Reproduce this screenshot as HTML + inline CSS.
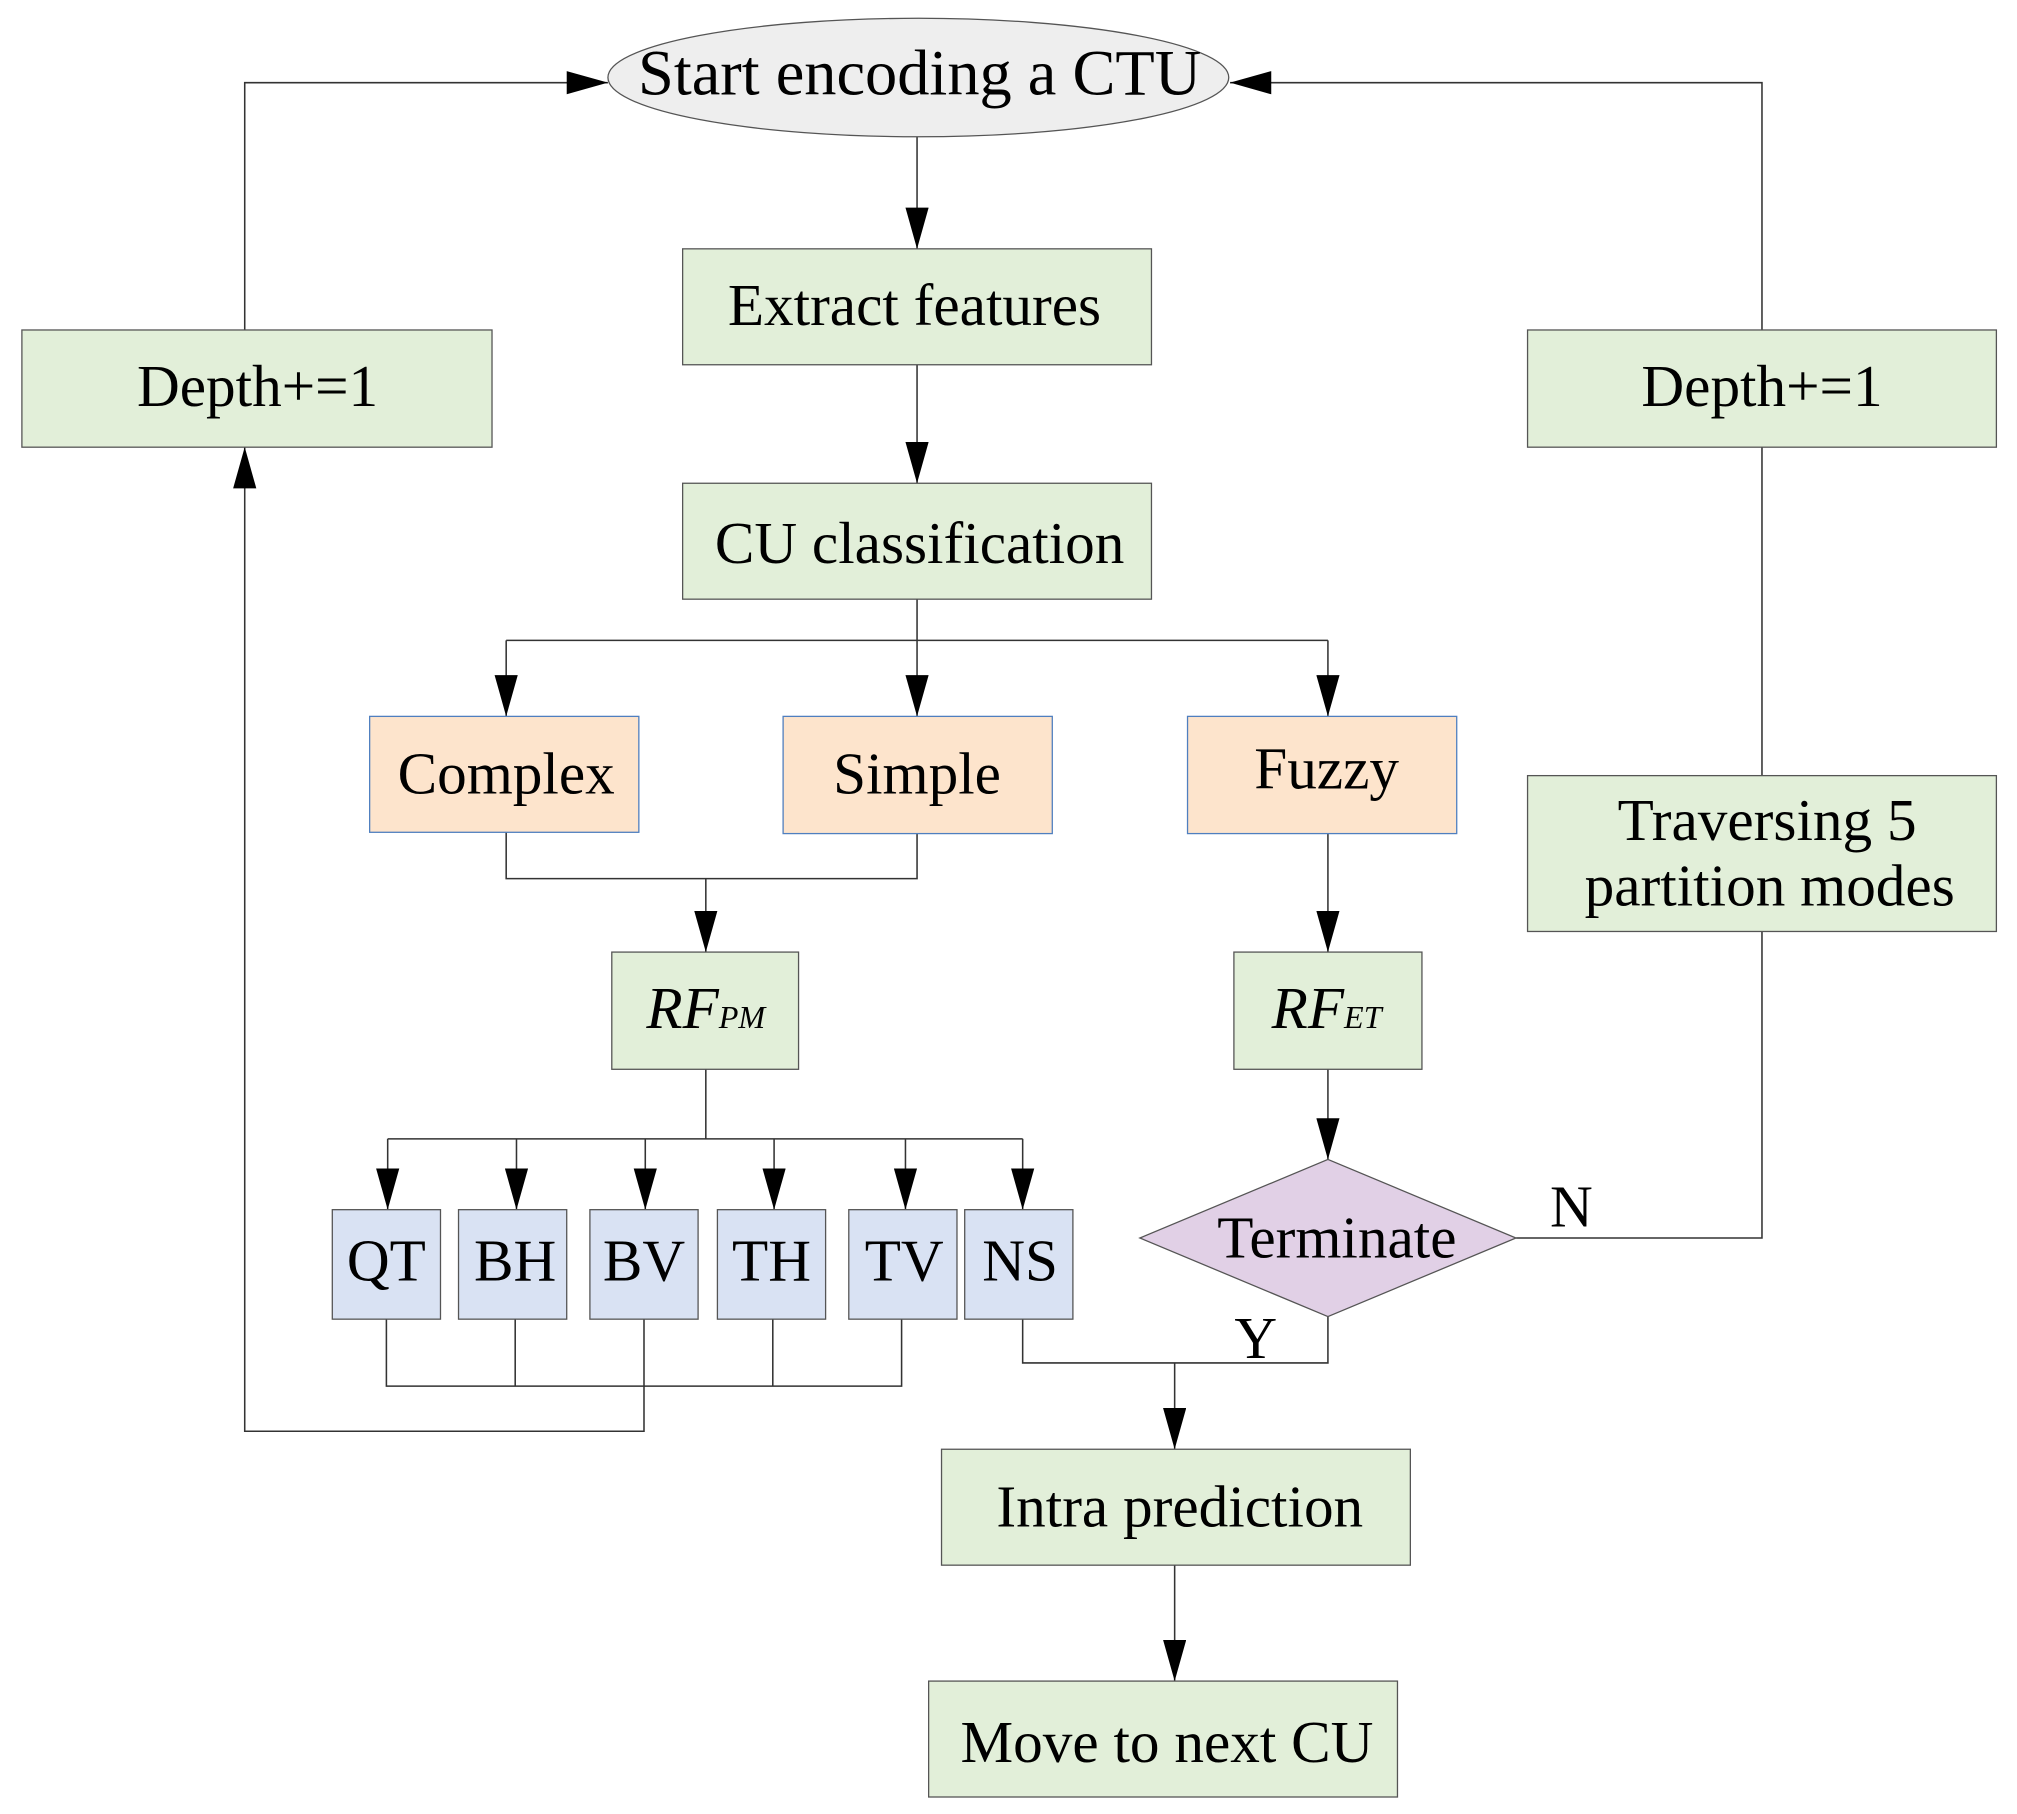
<!DOCTYPE html>
<html><head><style>html,body{margin:0;padding:0;background:#fff}svg{display:block}</style></head><body>
<svg width="2017" height="1814" viewBox="0 0 1566 1408" xmlns="http://www.w3.org/2000/svg" font-family="Liberation Serif, serif">
<defs><marker id="a" markerWidth="32" markerHeight="18" refX="32" refY="9" orient="auto" markerUnits="userSpaceOnUse" viewBox="0 0 32 18"><path d="M0,0 L32,9 L0,18 Z" fill="#000"/></marker></defs>
<g fill="none" stroke="#333" stroke-width="1.2">
<path d="M712,106 V193" marker-end="url(#a)"/>
<path d="M712,283 V375" marker-end="url(#a)"/>
<path d="M712,465 V497 M393,497 H1031"/>
<path d="M393,497 V556" marker-end="url(#a)"/>
<path d="M712,497 V556" marker-end="url(#a)"/>
<path d="M1031,497 V556" marker-end="url(#a)"/>
<path d="M393,646 V682 H712 V647"/>
<path d="M548,682 V739" marker-end="url(#a)"/>
<path d="M1031,647 V739" marker-end="url(#a)"/>
<path d="M548,830 V884 M301,884 H794"/>
<path d="M301,884 V939" marker-end="url(#a)"/>
<path d="M401,884 V939" marker-end="url(#a)"/>
<path d="M501,884 V939" marker-end="url(#a)"/>
<path d="M601,884 V939" marker-end="url(#a)"/>
<path d="M703,884 V939" marker-end="url(#a)"/>
<path d="M794,884 V939" marker-end="url(#a)"/>
<path d="M1031,830 V900" marker-end="url(#a)"/>
<path d="M1177,961 H1368 V723 M1368,602 V347"/>
<path d="M1368,256 V64 H955" marker-end="url(#a)"/>
<path d="M1031,1022 V1058 H794 V1024"/>
<path d="M912,1058 V1125" marker-end="url(#a)"/>
<path d="M300,1024 V1076 H700 V1024 M400,1024 V1076 M600,1024 V1076"/>
<path d="M500,1024 V1111 H190 V347" marker-end="url(#a)"/>
<path d="M190,256 V64 H472" marker-end="url(#a)"/>
<path d="M912,1215 V1305" marker-end="url(#a)"/>
</g>
<g stroke="#555" stroke-width="1">
<ellipse cx="713" cy="60" rx="241" ry="46" fill="#eeeeee"/>
<g fill="#e2efd9">
<rect x="530" y="193" width="364" height="90"/>
<rect x="530" y="375" width="364" height="90"/>
<rect x="17" y="256" width="365" height="91"/>
<rect x="1186" y="256" width="364" height="91"/>
<rect x="1186" y="602" width="364" height="121"/>
<rect x="475" y="739" width="145" height="91"/>
<rect x="958" y="739" width="146" height="91"/>
<rect x="731" y="1125" width="364" height="90"/>
<rect x="721" y="1305" width="364" height="90"/>
</g>
<g fill="#fde4cc" stroke="#4f7fbf">
<rect x="287" y="556" width="209" height="90"/>
<rect x="608" y="556" width="209" height="91"/>
<rect x="922" y="556" width="209" height="91"/>
</g>
<g fill="#d9e2f3">
<rect x="258" y="939" width="84" height="85"/>
<rect x="356" y="939" width="84" height="85"/>
<rect x="458" y="939" width="84" height="85"/>
<rect x="557" y="939" width="84" height="85"/>
<rect x="659" y="939" width="84" height="85"/>
<rect x="749" y="939" width="84" height="85"/>
</g>
<path d="M885,961 L1031,900 L1177,961 L1031,1022 Z" fill="#e1d0e6"/>
</g>
<g font-size="46" text-anchor="middle" fill="#000">
<text x="714" y="73" font-size="50">Start encoding a CTU</text>
<text x="710" y="252">Extract features</text>
<text x="714" y="437">CU classification</text>
<text x="200" y="315">Depth+=1</text>
<text x="1368" y="315">Depth+=1</text>
<text x="1372" y="652">Traversing 5</text>
<text x="1374" y="703">partition modes</text>
<text x="393" y="616">Complex</text>
<text x="712" y="616">Simple</text>
<text x="1030" y="612">Fuzzy</text>
<text x="548" y="798"><tspan font-style="italic">RF</tspan><tspan font-style="italic" font-size="25">PM</tspan></text>
<text x="1030" y="798"><tspan font-style="italic">RF</tspan><tspan font-style="italic" font-size="25">ET</tspan></text>
<text x="300" y="994">QT</text>
<text x="400" y="994">BH</text>
<text x="500" y="994">BV</text>
<text x="599" y="994">TH</text>
<text x="702" y="994">TV</text>
<text x="792" y="994">NS</text>
<text x="1038" y="976">Terminate</text>
<text x="1220" y="952">N</text>
<text x="975" y="1054">Y</text>
<text x="916" y="1185">Intra prediction</text>
<text x="906" y="1368">Move to next CU</text>
</g>
</svg>
</body></html>
